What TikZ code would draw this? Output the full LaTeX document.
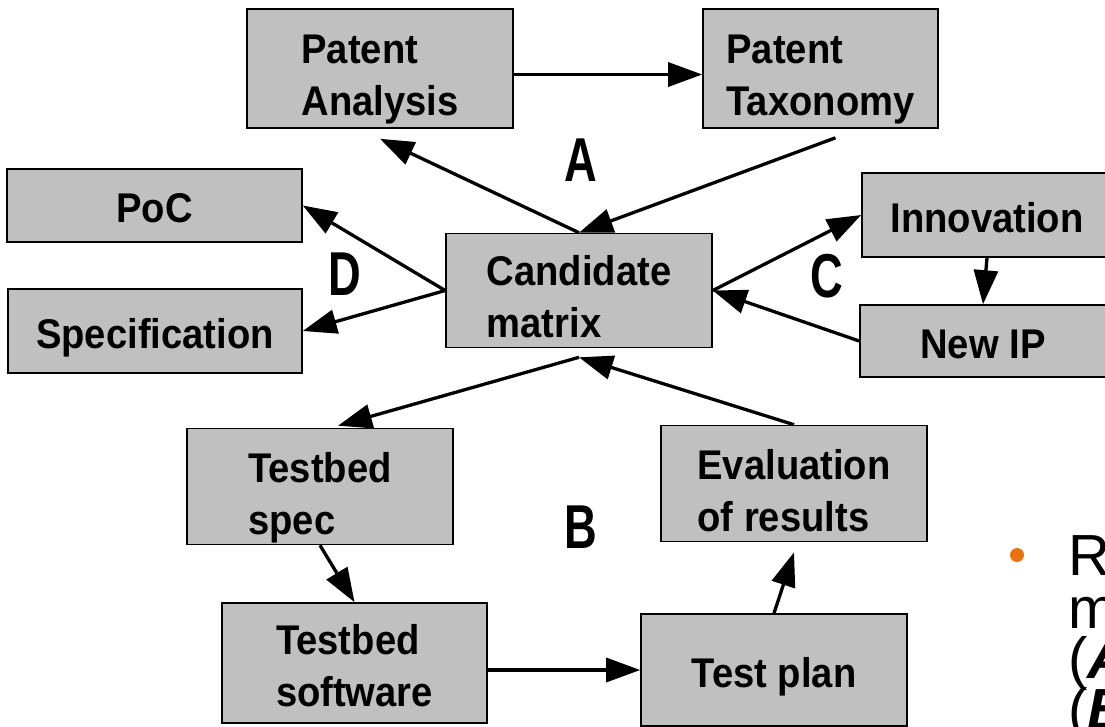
\documentclass[tikz,border=0pt]{standalone}
\usepackage{fontspec}
\setmainfont{Liberation Sans}
\newfontfamily\boxfont{Liberation Sans}[FakeStretch=0.92]
\newfontfamily\letfont{Liberation Sans}[FakeStretch=0.73]
\usetikzlibrary{arrows.meta,calc}
\definecolor{boxgray}{HTML}{C0C0C0}
\definecolor{bulletorange}{HTML}{E8720C}
\newcommand\twoline[3][52pt]{\rule{0pt}{#1}#2\\#3\rule[-10pt]{0pt}{10pt}}
\tikzset{
  box/.style={draw=black, line width=1.6pt, fill=boxgray, inner sep=0pt, align=left,
    font=\boxfont\fontsize{41.5}{52}\selectfont\bfseries},
  oneline/.style={text height=34pt, text depth=0pt},
  arr/.style={-{Triangle[length=34pt,width=24pt]}, line width=3.3pt},
  letter/.style={inner sep=0pt, anchor=base, font=\letfont\fontsize{62}{62}\selectfont\bfseries},
  bodytext/.style={inner sep=0pt, anchor=base west, font=\fontsize{58}{58}\selectfont}
}
\begin{document}
\begin{tikzpicture}[x=1pt,y=-1pt]
\useasboundingbox (0,0) rectangle (1105,726);
\fill[white] (0,0) rectangle (1105,726);
\clip (0,0) rectangle (1105,726);

% boxes
\node[box, minimum width=266pt, minimum height=119pt] (pa) at (380,68.5) {\twoline{Patent}{Analysis}};
\node[box, minimum width=235pt, minimum height=119pt] (pt) at (820.5,68.5) {\twoline{Patent}{Taxonomy}};
\node[box, oneline, minimum width=295pt, minimum height=73pt] (poc) at (154.5,205.5) {PoC};
\node[box, oneline, minimum width=294pt, minimum height=84pt] (spec) at (155,331) {Specification};
\node[box, minimum width=266pt, minimum height=113pt] (cand) at (579,290.5) {\twoline{Candidate}{matrix}};
\node[box, oneline, minimum width=250pt, minimum height=84pt] (inn) at (987,215) {Innovation};
\node[box, oneline, minimum width=246pt, minimum height=72pt] (newip) at (983,341) {New IP};
\node[box, minimum width=266pt, minimum height=113pt] (tspec) at (320,486.5) {\twoline[54pt]{Testbed}{spec}};
\node[box, minimum width=266pt, minimum height=113pt] (eval) at (794,483.5) {\twoline[54pt]{Evaluation}{of results}};
\node[box, minimum width=265pt, minimum height=120pt] (tsoft) at (354.5,663) {\twoline[44pt]{Testbed}{software}};
\node[box, oneline, minimum width=266pt, minimum height=112pt] (tplan) at (774,670) {Test plan};

% group letters
\node[letter] (la) at (581,181) {A};
\node[letter] (lb) at (581,548) {B};
\node[letter] (lc) at (827,297) {C};
\node[letter] (ld) at (345,295) {D};

% connectors
\draw[arr] ([yshift=-6pt]pa.east) -- ([yshift=-6pt]pt.west);
\draw[arr] (cand.north) -- ($(pa.south)+(0,10)$);
\draw[arr] ($(pt.south)+(15,9)$) -- (cand.north);
\draw[arr] (cand.west) -- (poc.east);
\draw[arr] (cand.west) -- (spec.east);
\draw[arr] (cand.east) -- (inn.west);
\draw[arr] (newip.west) -- (cand.east);
\draw[arr] (inn.south) -- (newip.north);
\draw[arr] ($(cand.south)+(0,9)$) -- ($(tspec.north)+(18,-2)$);
\draw[arr] (eval.north) -- ($(cand.south)+(0,9)$);
\draw[arr] (tspec.south) -- (tsoft.north);
\draw[arr] ([yshift=-7pt]tsoft.east) -- (tplan.west);
\draw[arr] (tplan.north) -- ($(eval.south)+(0,10)$);

% truncated slide text
\fill[bulletorange] (1017,555) circle (7pt);
\node[bodytext] (r1) at (1068,575) {R};
\node[bodytext] (r2) at (1068,628) {m};
\node[bodytext] (r3) at (1068,678) {(\textbf{\textit{A}}};
\node[bodytext] (r4) at (1068,729) {(\textbf{\textit{B}}};
\end{tikzpicture}
\end{document}
